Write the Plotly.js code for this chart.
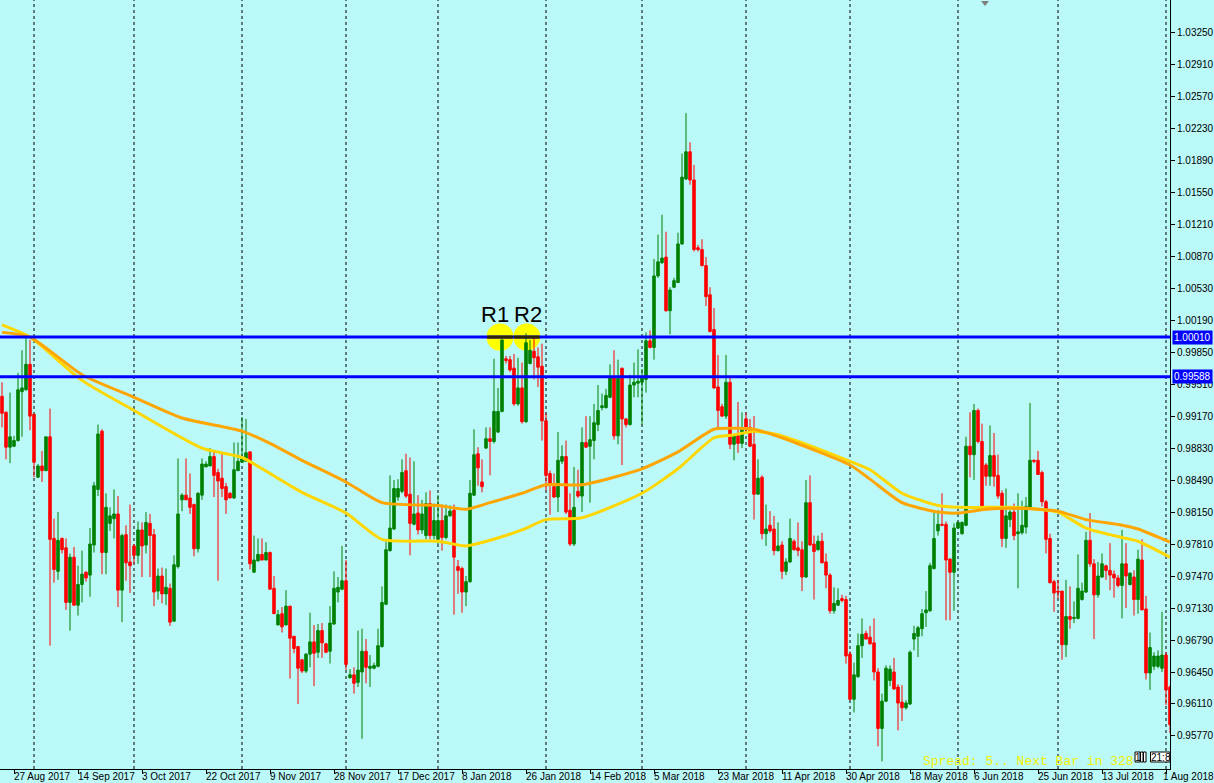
<!DOCTYPE html>
<html><head><meta charset="utf-8">
<script src="https://cdn.plot.ly/plotly-3.0.1.min.js"></script>
<style>html,body{margin:0;padding:0;background:#BBF8F8;}#chart{width:1214px;height:783px;}</style>
</head><body><div id="chart"></div>
<script>
// Daily bars, EUR/CHF style chart (Aug 2017 - Aug 2018)
const openP = [
.9938,.9921,.9884,.9885,.9891,.9943,.9945,.9972,.9919,.9852,
.9864,.9859,.9895,.9787,.9752,.9787,.9777,.9719,.9767,.9716,
.9738,.9751,.9748,.9780,.9839,.9901,.9772,.9803,.9808,.9813,
.9732,.9791,.9762,.9779,.9769,.9796,.9780,.9803,.9791,.9731,
.9747,.9728,.9734,.9699,.9757,.9828,.9833,.9830,.9823,.9776,
.9833,.9863,.9864,.9874,.9857,.9851,.9842,.9835,.9830,.9859,
.9868,.9869,.9879,.9751,.9763,.9770,.9764,.9772,.9734,.9695,
.9707,.9695,.9715,.9683,.9672,.9658,.9646,.9664,.9677,.9666,
.9689,.9675,.9667,.9696,.9730,.9733,.9742,.9639,.9642,.9634,
.9645,.9667,.9649,.9649,.9651,.9672,.9717,.9774,.9797,.9831,
.9837,.9859,.9834,.9802,.9814,.9796,.9790,.9824,.9790,.9786,
.9806,.9788,.9811,.9817,.9757,.9755,.9730,.9741,.9833,.9877,
.9847,.9883,.9893,.9890,.9900,.9922,.9978,.9977,.9968,.9930,
.9947,.9911,.9973,.9986,.9980,.9970,.9912,.9856,.9842,.9831,
.9869,.9874,.9817,.9781,.9837,.9832,.9889,.9885,.9891,.9908,
.9926,.9926,.9937,.9959,.9896,.9968,.9914,.9908,.9950,.9952,
.9953,.9956,.9997,.9990,1.0066,1.0080,1.0086,1.0029,1.0054,1.0059,
1.0100,1.0169,1.0198,1.0168,1.0096,1.0094,1.0077,1.0046,1.0009,.9948,
.9927,.9917,.9953,.9887,.9896,.9888,.9914,.9905,.9887,.9834,
.9852,.9792,.9801,.9797,.9774,.9780,.9752,.9762,.9784,.9777,
.9775,.9746,.9825,.9781,.9775,.9784,.9762,.9748,.9710,.9716,
.9723,.9722,.9664,.9616,.9640,.9673,.9686,.9682,.9676,.9645,
.9585,.9614,.9636,.9645,.9629,.9613,.9607,.9611,.9680,.9683,
.9691,.9708,.9710,.9755,.9795,.9802,.9802,.9765,.9751,.9798,
.9792,.9801,.9885,.9876,.9923,.9890,.9865,.9853,.9875,.9854,
.9835,.9787,.9807,.9815,.9792,.9793,.9799,.9820,.9870,.9870,
.9857,.9826,.9787,.9741,.9731,.9731,.9674,.9704,.9702,.9702,
.9722,.9730,.9785,.9760,.9727,.9746,.9758,.9753,.9749,.9745,
.9737,.9760,.9738,.9746,.9722,.9764,.9712,.9644,.9651,.9651,
.9649,.9663,.9629];
const highP = [
.9953,.9922,.9942,.9896,.9963,.9987,1.0000,.9998,.9919,.9866,
.9880,.9895,.9925,.9808,.9815,.9788,.9787,.9771,.9778,.9758,
.9774,.9752,.9798,.9847,.9908,.9903,.9835,.9820,.9839,.9832,
.9792,.9801,.9823,.9781,.9805,.9804,.9815,.9813,.9797,.9755,
.9756,.9755,.9739,.9769,.9872,.9835,.9872,.9856,.9824,.9836,
.9872,.9869,.9883,.9881,.9861,.9877,.9846,.9836,.9889,.9889,
.9916,.9914,.9879,.9790,.9787,.9787,.9783,.9773,.9747,.9711,
.9714,.9732,.9715,.9683,.9672,.9659,.9665,.9708,.9695,.9696,
.9697,.9676,.9715,.9752,.9746,.9779,.9764,.9648,.9650,.9689,
.9691,.9680,.9663,.9655,.9691,.9736,.9784,.9854,.9849,.9850,
.9871,.9877,.9873,.9869,.9833,.9828,.9836,.9838,.9824,.9833,
.9823,.9823,.9822,.9823,.9764,.9757,.9747,.9849,.9903,.9884,
.9871,.9905,.9905,.9978,.9947,.9998,.9981,.9981,.9983,.9979,
.9974,1.0005,.9998,1.0002,.9990,.9994,.9920,.9859,.9856,.9900,
.9886,.9891,.9835,.9863,.9860,.9905,.9917,.9917,.9930,.9950,
.9941,.9946,.9972,.9987,.9977,.9968,.9915,.9961,.9974,.9988,
.9967,1.0006,1.0008,1.0084,1.0110,1.0131,1.0113,1.0054,1.0064,1.0112,
1.0196,1.0239,1.0208,1.0184,1.0099,1.0105,1.0086,1.0054,1.0032,.9982,
.9930,.9982,.9958,.9897,.9932,.9921,.9921,.9914,.9917,.9871,
.9854,.9823,.9816,.9811,.9804,.9784,.9766,.9808,.9786,.9804,
.9784,.9849,.9854,.9790,.9790,.9793,.9771,.9750,.9735,.9734,
.9727,.9726,.9667,.9655,.9686,.9702,.9689,.9694,.9702,.9649,
.9622,.9652,.9652,.9660,.9632,.9631,.9615,.9668,.9694,.9694,
.9712,.9731,.9761,.9814,.9817,.9835,.9805,.9766,.9803,.9805,
.9805,.9895,.9921,.9930,.9925,.9909,.9867,.9907,.9899,.9876,
.9838,.9840,.9817,.9824,.9835,.9827,.9831,.9931,.9871,.9880,
.9859,.9828,.9792,.9743,.9743,.9731,.9743,.9736,.9720,.9770,
.9740,.9794,.9814,.9765,.9762,.9771,.9759,.9782,.9753,.9748,
.9796,.9782,.9751,.9753,.9775,.9786,.9726,.9687,.9666,.9668,
.9709,.9666,.9631];
const lowP = [
.9905,.9871,.9867,.9884,.9890,.9895,.9944,.9902,.9852,.9852,
.9847,.9859,.9673,.9740,.9743,.9771,.9711,.9689,.9716,.9705,
.9719,.9741,.9725,.9772,.9832,.9749,.9749,.9795,.9787,.9714,
.9698,.9742,.9729,.9760,.9760,.9746,.9771,.9746,.9715,.9722,
.9718,.9716,.9694,.9699,.9755,.9816,.9828,.9813,.9768,.9772,
.9828,.9863,.9864,.9831,.9742,.9831,.9813,.9830,.9829,.9859,
.9868,.9869,.9754,.9751,.9763,.9764,.9764,.9733,.9707,.9695,
.9687,.9695,.9638,.9665,.9611,.9644,.9644,.9650,.9630,.9660,
.9660,.9665,.9654,.9695,.9719,.9732,.9647,.9638,.9622,.9629,
.9574,.9633,.9629,.9648,.9650,.9671,.9716,.9773,.9796,.9827,
.9835,.9830,.9769,.9801,.9791,.9792,.9786,.9786,.9786,.9781,
.9774,.9786,.9810,.9706,.9728,.9708,.9715,.9740,.9832,.9843,
.9836,.9882,.9854,.9888,.9899,.9921,.9973,.9964,.9928,.9928,
.9909,.9910,.9972,.9956,.9948,.9891,.9838,.9812,.9830,.9815,
.9866,.9813,.9779,.9779,.9830,.9815,.9883,.9825,.9871,.9901,
.9923,.9925,.9936,.9892,.9887,.9865,.9905,.9907,.9937,.9937,
.9908,.9942,.9989,.9977,1.0064,1.0079,1.0028,1.0004,1.0053,1.0059,
1.0099,1.0168,1.0163,1.0092,1.0092,1.0076,1.0034,1.0006,.9946,.9904,
.9916,.9914,.9882,.9870,.9878,.9883,.9901,.9884,.9807,.9834,
.9786,.9779,.9793,.9769,.9773,.9744,.9748,.9761,.9774,.9768,
.9731,.9745,.9779,.9722,.9774,.9761,.9734,.9707,.9707,.9716,
.9719,.9654,.9615,.9602,.9639,.9660,.9680,.9674,.9636,.9566,
.9550,.9613,.9630,.9626,.9583,.9593,.9605,.9610,.9668,.9661,
.9683,.9693,.9709,.9754,.9790,.9800,.9700,.9700,.9710,.9797,
.9791,.9800,.9852,.9849,.9888,.9819,.9843,.9843,.9842,.9829,
.9778,.9777,.9799,.9785,.9734,.9791,.9792,.9819,.9867,.9855,
.9821,.9771,.9739,.9709,.9723,.9658,.9661,.9691,.9697,.9701,
.9721,.9729,.9757,.9680,.9724,.9745,.9743,.9732,.9724,.9735,
.9702,.9713,.9737,.9705,.9707,.9711,.9637,.9626,.9647,.9649,
.9645,.9610,.9580];
const closeP = [
.9920,.9884,.9895,.9891,.9945,.9947,.9972,.9917,.9868,.9864,
.9859,.9895,.9786,.9754,.9785,.9775,.9719,.9767,.9716,.9738,
.9749,.9745,.9781,.9843,.9898,.9772,.9820,.9811,.9813,.9732,
.9790,.9761,.9758,.9769,.9796,.9779,.9804,.9790,.9730,.9747,
.9728,.9735,.9698,.9759,.9813,.9833,.9828,.9820,.9776,.9835,
.9866,.9866,.9874,.9854,.9848,.9840,.9828,.9830,.9860,.9869,
.9872,.9878,.9760,.9764,.9770,.9764,.9772,.9733,.9707,.9706,
.9693,.9715,.9681,.9670,.9649,.9646,.9664,.9677,.9665,.9689,
.9676,.9666,.9697,.9734,.9735,.9742,.9653,.9642,.9633,.9647,
.9667,.9650,.9651,.9652,.9673,.9719,.9775,.9798,.9840,.9840,
.9857,.9832,.9803,.9813,.9796,.9813,.9824,.9790,.9806,.9806,
.9788,.9811,.9816,.9767,.9753,.9730,.9741,.9835,.9876,.9862,
.9842,.9893,.9890,.9922,.9922,.9998,.9976,.9966,.9930,.9947,
.9911,.9995,.9987,.9979,.9969,.9912,.9854,.9844,.9831,.9870,
.9874,.9815,.9781,.9820,.9832,.9889,.9884,.9892,.9910,.9923,
.9928,.9939,.9959,.9896,.9957,.9914,.9908,.9950,.9953,.9954,
.9959,.9997,.9990,1.0066,1.0081,1.0085,1.0029,1.0051,1.0061,1.0100,
1.0171,1.0198,1.0168,1.0094,1.0094,1.0077,1.0044,1.0007,.9947,.9923,
.9917,.9953,.9887,.9896,.9888,.9904,.9905,.9885,.9834,.9851,
.9792,.9797,.9795,.9774,.9779,.9752,.9762,.9787,.9775,.9774,
.9746,.9825,.9780,.9773,.9784,.9761,.9748,.9710,.9718,.9721,
.9721,.9662,.9616,.9642,.9673,.9685,.9680,.9675,.9645,.9585,
.9614,.9649,.9648,.9627,.9612,.9607,.9612,.9666,.9686,.9692,
.9707,.9711,.9758,.9787,.9802,.9801,.9764,.9751,.9798,.9804,
.9804,.9885,.9876,.9923,.9890,.9821,.9853,.9875,.9853,.9832,
.9787,.9811,.9815,.9790,.9794,.9801,.9821,.9870,.9869,.9855,
.9826,.9786,.9740,.9729,.9730,.9674,.9704,.9701,.9703,.9734,
.9731,.9785,.9760,.9727,.9747,.9760,.9753,.9748,.9745,.9737,
.9760,.9747,.9750,.9722,.9765,.9711,.9644,.9671,.9662,.9662,
.9663,.9626,.9589];

// Moving averages read at sample bars
const maBars   = [0,7,20,33,45,60,67,75,86,95,109,116,122,130,136,145,160,169,178,183,188,195,212,217,225,234,239,246,252,259,264,271,280,284,292];
const maOrange = [1.0006,1.0001,.9961,.9937,.9915,.9901,.9888,.9870,.9847,.9825,.9822,.9818,.9825,.9835,.9844,.9844,.9861,.9879,.9903,.9904,.9903,.9894,.9865,.9850,.9825,.9815,.9814,.9818,.9819,.9818,.9816,.9807,.9801,.9797,.9783];
const maGoldBars = [0,7,20,33,50,60,67,75,86,95,109,116,122,130,136,145,160,169,178,183,188,195,212,217,225,234,239,246,252,259,264,271,280,284,292];
const maGold   = [1.0014,1.0001,.9955,.9923,.9883,.9873,.9856,.9836,.9814,.9786,.9784,.9779,.9785,.9796,.9807,.9809,.9835,.9861,.9894,.9897,.9901,.9896,.9869,.9860,.9835,.9822,.9820,.9820,.9820,.9818,.9815,.9798,.9788,.9784,.9767];

// Horizontal levels
const levels = [1.00010, 0.99588];
const levelText = ["1.00010", "0.99588"];

// Time axis labels (bar index) and month-start grid
const labelBars = [3,19,35,51,67,83,99,115,131,147,163,179,195,211,227,243,259,275,291];
const labelText = ["27 Aug 2017","14 Sep 2017","3 Oct 2017","22 Oct 2017","9 Nov 2017","28 Nov 2017","17 Dec 2017","8 Jan 2018","26 Jan 2018","14 Feb 2018","5 Mar 2018","23 Mar 2018","11 Apr 2018","30 Apr 2018","18 May 2018","6 Jun 2018","25 Jun 2018","13 Jul 2018","1 Aug 2018"];
const monthBars = [8,33,60,86,109,136,160,186,212,239,264,291];
const priceTicks = [0.9577,0.9611,0.9645,0.9679,0.9713,0.9747,0.9781,0.9815,0.9849,0.9883,0.9917,0.9951,0.9985,1.0019,1.0053,1.0087,1.0121,1.0155,1.0189,1.0223,1.0257,1.0291,1.0325];

// Marked resistance touches
const marks = [{name:"R1", bar:124.5, textBar:123.2}, {name:"R2", bar:131.2, textBar:131.5}];

const BG = '#BBF8F8';
const FONT = 'Liberation Sans, Arial, sans-serif';
const idx = openP.map((_, i) => i);

const traces = [
  {type:'candlestick', x: idx, open: openP, high: highP, low: lowP, close: closeP,
   increasing:{line:{color:'#008000', width:1}, fillcolor:'#008000'},
   decreasing:{line:{color:'#FF0000', width:1}, fillcolor:'#FF0000'},
   whiskerwidth:0, hoverinfo:'none', showlegend:false},
  {type:'scatter', mode:'lines', x: maGoldBars, y: maGold, line:{color:'#FFD700', width:3, shape:'spline', smoothing:0.6}, hoverinfo:'none', showlegend:false},
  {type:'scatter', mode:'lines', x: maBars, y: maOrange, line:{color:'#FFA500', width:3, shape:'spline', smoothing:0.6}, hoverinfo:'none', showlegend:false}
];

const shapes = [];
monthBars.forEach(b => shapes.push({type:'line', xref:'x', yref:'paper', x0:b, x1:b, y0:0, y1:1, layer:'below', line:{color:'#000000', width:1, dash:'3px,3px'}}));
marks.forEach(m => shapes.push({type:'circle', xref:'x', yref:'y', xsizemode:'pixel', ysizemode:'pixel', xanchor:m.bar, yanchor:levels[0], x0:-13.5, x1:13.5, y0:-13.5, y1:13.5, layer:'below', fillcolor:'#FFFF00', line:{width:0}}));
levels.forEach(v => shapes.push({type:'line', xref:'paper', yref:'y', x0:0, x1:1, y0:v, y1:v, layer:'above', line:{color:'#0000FF', width:3}}));
marks.forEach(m => shapes.push({type:'line', xref:'x', yref:'y', x0:m.bar-3.2, x1:m.bar+3.2, y0:levels[0], y1:levels[0], layer:'above', line:{color:'#2E2400', width:3}}));
// chart-shift marker at top
shapes.push({type:'path', xref:'paper', yref:'paper', path:'M 0.8385 0.9987 L 0.8453 0.9987 L 0.8419 0.9922 Z', fillcolor:'#808080', line:{width:0}});
// small status boxes bottom right
[[1135,1140],[1140.5,1143],[1143.5,1146],[1150.5,1170]].forEach(r => shapes.push({type:'rect', xref:'paper', yref:'paper', x0:r[0]/1170, x1:r[1]/1170, y0:(769-762)/769, y1:(769-752)/769, fillcolor:'#FFFFFF', line:{color:'#000000', width:1}}));

const annotations = [];
// date labels to the right of their tick marks, below the axis line
labelBars.forEach((b, k) => annotations.push({xref:'x', yref:'paper', x:b, y:0, xanchor:'left', yanchor:'top', xshift:(k === labelBars.length - 1 ? -4 : -1), yshift:-1, text:labelText[k], showarrow:false, borderpad:0, font:{family:FONT, size:10, color:'#000000'}}));
levels.forEach((v, k) => annotations.push({xref:'paper', yref:'y', x:1, y:v, xanchor:'left', yanchor:'middle', xshift:2, text:levelText[k], showarrow:false, bgcolor:'#0000FF', font:{family:FONT, size:10, color:'#FFFFFF'}, borderpad:1}));
marks.forEach(m => annotations.push({xref:'x', yref:'y', x:m.textBar, y:1.00255, text:m.name, showarrow:false, font:{family:FONT, size:22, color:'#000000'}}));
annotations.push({xref:'paper', yref:'paper', x:921/1170, y:(769-761)/769, xanchor:'left', yanchor:'middle', text:'Spread: 5.. Next Bar in 328', showarrow:false, font:{family:'Liberation Mono, Courier New, monospace', size:13, color:'#F2F200'}});
annotations.push({xref:'paper', yref:'paper', x:1160.5/1170, y:(769-757)/769, xanchor:'center', yanchor:'middle', text:'21:8', showarrow:false, font:{family:FONT, size:10, color:'#000000'}});
annotations.push({xref:'paper', yref:'paper', x:1137.5/1170, y:(769-757)/769, xanchor:'center', yanchor:'middle', text:'1', showarrow:false, font:{family:FONT, size:10, color:'#000000'}});

const layout = {
  width:1214, height:783,
  margin:{l:0, r:44, t:0, b:14, pad:0},
  paper_bgcolor:BG, plot_bgcolor:BG,
  showlegend:false, hovermode:false,
  boxgap:0.3, boxgroupgap:0.1,
  font:{family:FONT, size:10, color:'#000000'},
  xaxis:{type:'linear', range:[-0.5, 292], showgrid:false, zeroline:false, showline:true, linecolor:'#000000', linewidth:1,
         ticks:'outside', ticklen:4, tickcolor:'#000000', tickvals:labelBars, showticklabels:false,
         rangeslider:{visible:false}, fixedrange:true},
  yaxis:{side:'right', range:[0.95419, 1.03593], showgrid:false, zeroline:false, showline:true, linecolor:'#000000', linewidth:1,
         ticks:'outside', ticklen:4, tickcolor:'#000000', tickvals:priceTicks, tickformat:'.5f',
         tickfont:{family:FONT, size:10, color:'#000000'}, fixedrange:true},
  shapes:shapes, annotations:annotations
};

Plotly.newPlot('chart', traces, layout, {staticPlot:true, displayModeBar:false});
</script></body></html>
